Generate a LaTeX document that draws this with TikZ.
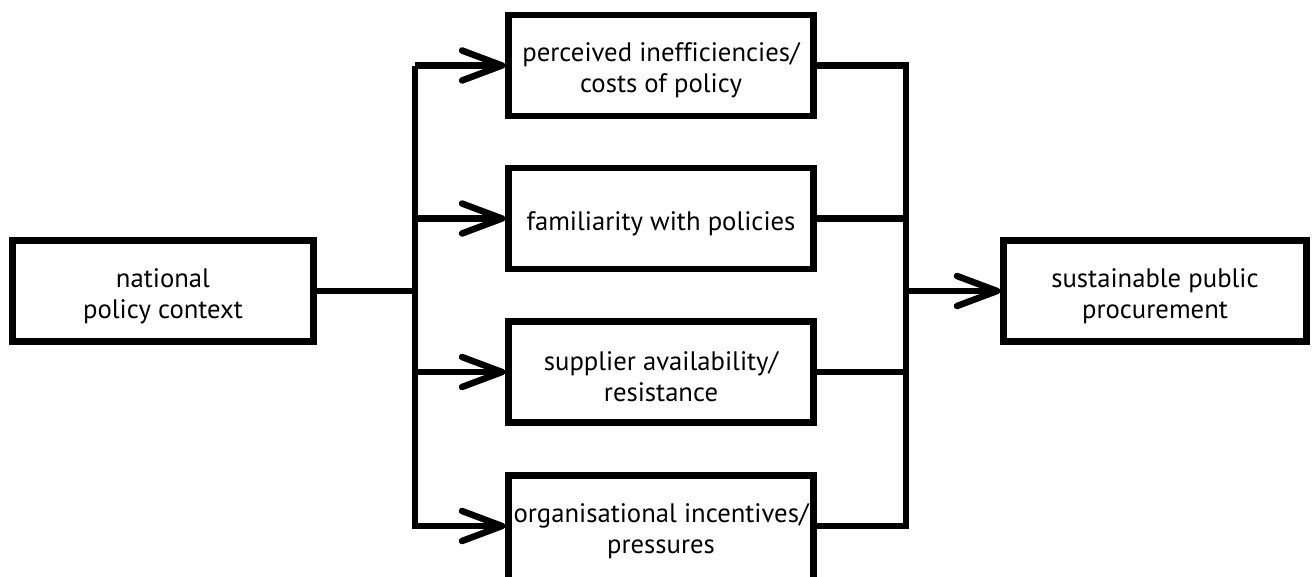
\documentclass[tikz,border=0pt]{standalone}
\usepackage{fontspec}
\setmainfont{PT Sans}[Ligatures=NoCommon]
\usetikzlibrary{arrows.meta}
\newcommand\tstrut{\rule{0pt}{29pt}}
\tikzset{
  box/.style={draw=black, line width=6.5pt, fill=white, align=center, inner sep=0pt,
    minimum width=305pt, minimum height=101pt,
    font=\fontsize{26.7}{31}\selectfont},
  conn/.style={line width=6.5pt, line join=miter},
  arr/.style={conn, -{Straight Barb[length=40pt,width=30pt,round]}},
}
\begin{document}
\begin{tikzpicture}[x=1pt,y=-1pt]
\useasboundingbox (0,0) rectangle (1316,576);
\node[box, minimum width=301pt] (ctx) at (163,291) {\tstrut national\\policy context};
\node[box] (b1) at (661,65.5) {\tstrut perceived inefficiencies/\\costs of policy};
\node[box] (b2) at (661,218.5) {\tstrut familiarity with policies};
\node[box] (b3) at (661,372) {\tstrut supplier availability/\\resistance};
\node[box, draw=none, outer sep=0pt] (b4) at (661,526) {\tstrut organisational incentives/\\pressures};
\draw[line width=6.5pt] (b4.north west) rectangle ([yshift=-14pt]b4.south east);
\node[box, minimum width=303pt] (spp) at (1155,291) {\tstrut sustainable public\\procurement};
\coordinate (C) at (415,291);
\coordinate (L1) at (415,65.5);
\coordinate (L2) at (415,218.5);
\coordinate (L3) at (415,372);
\coordinate (L4) at (415,526);
\coordinate (R1) at (906,65.5);
\coordinate (R2) at (906,218.5);
\coordinate (R3) at (906,372);
\coordinate (R4) at (906,526);
\coordinate (D) at (906,291);
\draw[conn] (ctx.east) -- (C);
\draw[conn] (L1) -- (L4);
\draw[arr] (L1) -- (b1.west);
\draw[arr] (L2) -- (b2.west);
\draw[arr] (L3) -- (b3.west);
\draw[arr] ([xshift=-3.25pt]L4) -- ([xshift=-3.25pt]b4.west);
\draw[conn] (b1.east) -- (R1) -- (R4) -- ([xshift=3.25pt]b4.east);
\draw[conn] (b2.east) -- (R2);
\draw[conn] (b3.east) -- (R3);
\draw[arr] (D) -- (spp.west);
\end{tikzpicture}
\end{document}
